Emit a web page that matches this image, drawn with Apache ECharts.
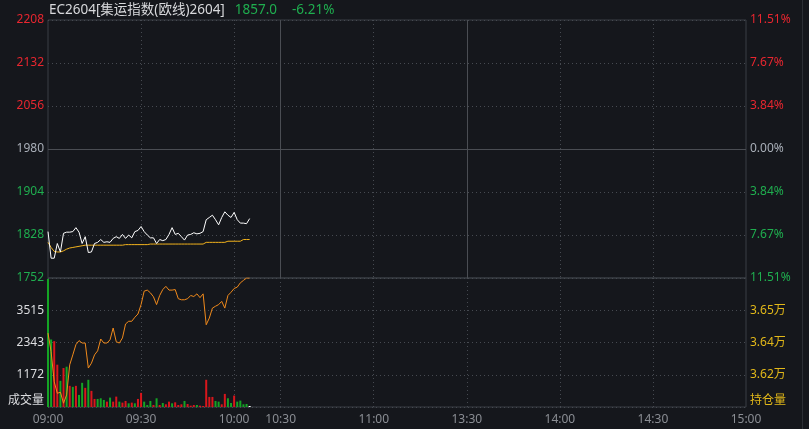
<!DOCTYPE html>
<html><head><meta charset="utf-8">
<script src="https://cdn.jsdelivr.net/npm/echarts@6/dist/echarts.min.js"></script>
<style>html,body{margin:0;padding:0;background:#15171c;}#c{width:809px;height:429px;}</style>
</head><body><div id="c"></div>
<script>
const symbolName = 'EC2604[集运指数(欧线)2604]';
const preSettle = 1980;
const sessions = [['09:00','10:14'],['10:30','11:29'],['13:30','15:00']];
const timeTicks = ['09:00','09:30','10:00','10:30','11:00','13:30','14:00','14:30','15:00'];
const priceTickLabels = ['1752','1828','1904','1980','2056','2132','2208'];
const pctTickLabels = ['11.51%','7.67%','3.84%','0.00%','3.84%','7.67%','11.51%'];
const volTickLabels = ['成交量','1172','2343','3515',''];
const oiTickLabels = ['持仓量','3.62万','3.64万','3.65万',''];

const price = [1834,1787,1787,1813,1798,1831,1833,1833,1834,1841,
  1833,1813,1825,1797,1798,1813,1815,1820,1815,1816,
  1815,1822,1825,1822,1829,1822,1828,1823,1834,1836,
  1843,1834,1828,1823,1823,1813,1820,1818,1820,1829,
  1841,1829,1831,1825,1819,1828,1829,1832,1830,1831,
  1834,1855,1859,1863,1855,1846,1859,1869,1863,1859,
  1868,1855,1849,1849,1848,1857];
const avgPrice = [1815,1806,1799,1798,1798,1800,1803,1805,1806,1807,
  1808,1809,1810,1810,1810,1810,1810,1810,1810,1810,
  1810,1810,1810,1810,1810,1811,1811,1811,1811,1811,
  1811,1811,1811,1812,1812,1812,1812,1812,1812,1812,
  1812,1812,1812,1812,1812,1812,1812,1812,1812,1812,
  1812,1815,1815,1815,1815,1815,1815,1815,1817,1817,
  1817,1817,1817,1820,1820,1820];
const volume = [4650,2454,2393,1538,952,1416,1465,769,732,769,
  439,879,696,989,586,293,293,317,256,195,
  342,195,378,195,159,220,134,159,134,293,
  513,195,73,220,73,317,73,146,98,195,
  134,171,73,98,220,110,49,73,73,49,
  37,989,366,366,220,195,98,476,317,146,
  415,195,232,98,110,37];
const volDir = ['g','g','r','r','g','r','g','r','g','r',
  'g','g','r','g','r','r','g','g','g','r',
  'g','r','r','g','r','r','g','r','g','r',
  'r','g','g','g','r','g','r','g','r','r',
  'g','r','r','r','g','r','r','r','g','r',
  'r','r','r','r','g','g','r','r','g','g',
  'r','g','g','g','g','w'];
const openInterest = [36395,36326,36214,36171,36175,36134,36165,36277,36314,36352,
  36367,36358,36358,36265,36283,36314,36329,36373,36358,36358,
  36370,36414,36363,36358,36377,36429,36439,36439,36454,36466,
  36501,36551,36555,36545,36530,36501,36535,36557,36569,36555,
  36555,36557,36523,36519,36519,36523,36535,36531,36541,36527,
  36541,36426,36451,36488,36495,36501,36513,36488,36535,36547,
  36561,36566,36582,36591,36600,36600];

function pad(n){return (n<10?'0':'')+n;}
function buildTimes(){
  const out=[];
  for (const [a,b] of sessions){
    let [h,m]=a.split(':').map(Number);
    const [eh,em]=b.split(':').map(Number);
    while (h*60+m <= eh*60+em){ out.push(pad(h)+':'+pad(m)); m++; if(m===60){m=0;h++;} }
  }
  return out;
}
const times = buildTimes();
const FONT = 'Noto Sans, Noto Sans CJK SC, sans-serif';
const RED='#e8262f', GREEN='#1fae4f', GRAY='#a9afb8', YEL='#e2b819', WHITE='#dcdde0';
const gridLine = '#3b3e44';
const dotted = {color:'#464a51', type:[1,3], width:1};

const chart = echarts.init(document.getElementById('c'), null, {renderer:'canvas'});
const last = price[price.length-1];
const chg = ((last-preSettle)/preSettle*100).toFixed(2);

function xAxisFor(g){
  return {
    type:'category', gridIndex:g, data:times, boundaryGap:false,
    axisLine:{show:false}, axisTick:{show:false},
    axisLabel: g===1 ? {show:true, interval:(i,v)=>timeTicks.includes(v), color:'#8b8e94', fontSize:12, fontFamily:FONT, margin:7} : {show:false},
    splitLine:{show:true, interval:(i,v)=> timeTicks.includes(v) && i>0 && i<times.length-1, lineStyle:dotted}
  };
}

const option = {
  backgroundColor:'#15171c',
  animation:false,
  textStyle:{fontFamily:FONT},
  title:{
    left:49, top:1, padding:0,
    text:'{a|'+symbolName+'}{b|'+last.toFixed(1)+'}{c|'+chg+'%}',
    textStyle:{fontFamily:FONT, fontWeight:'normal', rich:{
      a:{color:'#d8d9dc', fontSize:13.5, fontWeight:'normal', fontFamily:FONT, lineHeight:18},
      b:{color:GREEN, fontSize:13.5, fontWeight:'normal', fontFamily:FONT, padding:[0,0,0,10], lineHeight:18},
      c:{color:GREEN, fontSize:13.5, fontWeight:'normal', fontFamily:FONT, padding:[0,0,0,15], lineHeight:18}
    }}
  },
  graphic:[{type:'rect', shape:{x:802, y:0, width:1, height:429}, style:{fill:'#2c2f35'}, silent:true}],
  grid:[
    {left:48, right:63, top:20, height:258, show:true, borderColor:gridLine, borderWidth:1},
    {left:48, right:63, top:278, height:129, show:true, borderColor:gridLine, borderWidth:1}
  ],
  xAxis:[xAxisFor(0), xAxisFor(1)],
  yAxis:[
    {type:'value', gridIndex:0, position:'left', min:-228, max:228, interval:76,
     axisLine:{show:false}, axisTick:{show:false},
     splitLine:{show:true, lineStyle:dotted},
     axisLabel:{margin:4, fontSize:12, fontFamily:FONT,
       formatter:(v)=>{const i=Math.round((v+228)/76); const s=i>3?'r':(i<3?'g':'n'); return '{'+s+'|'+priceTickLabels[i]+'}';},
       rich:{r:{color:RED,fontSize:12,fontFamily:FONT},g:{color:GREEN,fontSize:12,fontFamily:FONT},n:{color:GRAY,fontSize:12,fontFamily:FONT}}}},
    {type:'value', gridIndex:0, position:'right', min:-228, max:228, interval:76,
     axisLine:{show:false}, axisTick:{show:false}, splitLine:{show:false},
     axisLabel:{margin:4, fontSize:12, fontFamily:FONT,
       formatter:(v)=>{const i=Math.round((v+228)/76); const s=i>3?'r':(i<3?'g':'n'); return '{'+s+'|'+pctTickLabels[i]+'}';},
       rich:{r:{color:RED,fontSize:12,fontFamily:FONT},g:{color:GREEN,fontSize:12,fontFamily:FONT},n:{color:GRAY,fontSize:12,fontFamily:FONT}}}},
    {type:'value', gridIndex:1, position:'left', min:0, max:4688, interval:1172,
     axisLine:{show:false}, axisTick:{show:false},
     splitLine:{show:true, lineStyle:dotted},
     axisLabel:{margin:4, fontSize:12, fontFamily:FONT,
       formatter:(v)=>{const i=Math.round(v/1172); const t=volTickLabels[i]; if(!t) return ''; return i===0?'{s|'+t+'}':'{n|'+t+'}';},
       rich:{n:{color:WHITE,fontSize:12,fontFamily:FONT},s:{color:WHITE,fontSize:12,fontFamily:FONT,padding:[0,0,12,0]}}}},
    {type:'value', gridIndex:1, position:'right', min:36120, max:36600, interval:120,
     axisLine:{show:false}, axisTick:{show:false}, splitLine:{show:false},
     axisLabel:{margin:4, fontSize:12, fontFamily:FONT,
       formatter:(v)=>{const i=Math.round((v-36120)/120); const t=oiTickLabels[i]; if(!t) return ''; return i===0?'{s|'+t+'}':'{n|'+t+'}';},
       rich:{n:{color:YEL,fontSize:12,fontFamily:FONT},s:{color:YEL,fontSize:12,fontFamily:FONT,padding:[0,0,12,0]}}}}
  ],
  series:[
    {type:'line', name:'price', xAxisIndex:0, yAxisIndex:0, data:price.map(p=>p-preSettle),
     symbol:'none', lineStyle:{color:'#ffffff', width:1}, itemStyle:{color:'#ffffff'}, z:4,
     markLine:{silent:true, symbol:'none', label:{show:false},
       lineStyle:{color:'#4a4d53', type:'solid', width:1},
       data:[{xAxis:'10:30'},{xAxis:'13:30'},{yAxis:0}]}},
    {type:'line', name:'avg', xAxisIndex:0, yAxisIndex:0, data:avgPrice.map(p=>p-preSettle),
     symbol:'none', lineStyle:{color:'#f3b31d', width:1}, itemStyle:{color:'#f3b31d'}, z:3},
    {type:'bar', name:'vol', xAxisIndex:1, yAxisIndex:2, barWidth:2,
     data:volume.map((v,i)=>({value:v, itemStyle:{color: volDir[i]==='r'?'#d9161c':(volDir[i]==='g'?'#14a424':'#ffffff')}})), z:2},
    {type:'line', name:'oi', xAxisIndex:1, yAxisIndex:3, data:openInterest,
     symbol:'none', lineStyle:{color:'#f08a1c', width:1}, itemStyle:{color:'#f08a1c'}, z:4}
  ]
};
chart.setOption(option);
</script></body></html>
